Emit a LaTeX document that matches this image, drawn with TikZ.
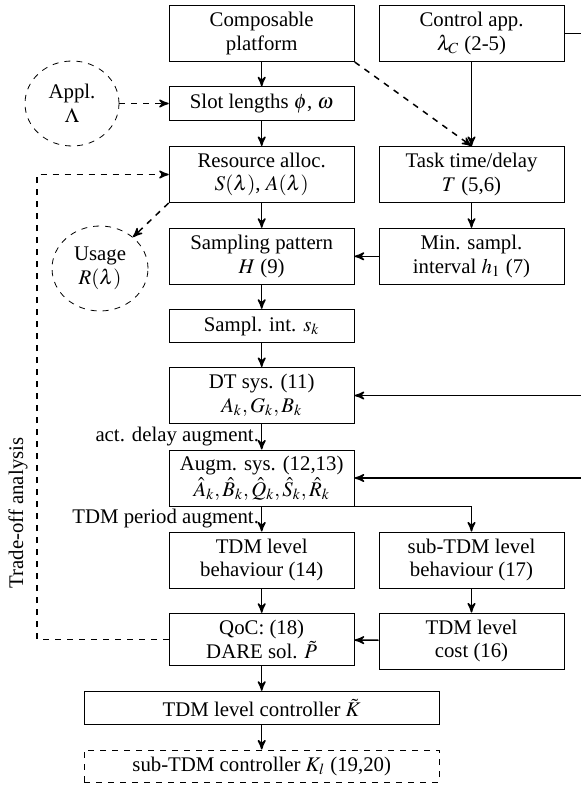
\documentclass[tikz,border=0pt]{standalone}
\usepackage{amsmath,amssymb}
\usepackage{mathptmx}
\usepackage[no-math]{fontspec}
\setmainfont{Liberation Serif}
\usepackage{tikz}
\usetikzlibrary{arrows}
\usetikzlibrary{calc,shapes.geometric}

\begin{document}
\begin{tikzpicture}[x=0.5pt,y=-0.5pt,>=stealth',font=\fontsize{10.4}{11.8}\selectfont,
	blk/.style={draw,rectangle,line width=.5pt,align=center,minimum width=92.5pt,inner sep=1pt},
	tall/.style={blk,minimum height=28pt},
	flat/.style={blk,minimum height=16.7pt},
	wide/.style={blk,minimum width=177.5pt,minimum height=16.7pt},
	cloud/.style={draw,ellipse,dashed,line width=.4pt,align=center,inner sep=0pt}]
	\useasboundingbox (0,0) rectangle (581,787);
	\clip (0,0) rectangle (581,787);
	
	\node[tall] (comp) at (261.7,33.5){Composable\\platform};
	\node[tall] (ctrl) at (471.5,33.5){Control app.\\$\lambda_C$ (2-5)};
	\node[flat] (slot) at (261.7,103.5){Slot lengths $\phi$, $\omega$};
	\node[cloud,minimum width=47pt,minimum height=42.5pt] (appl) at (72,103.5){Appl.\\$\Lambda$};
	\node[tall] (res) at (261.7,174.5){Resource alloc.\\$S(\lambda)$, $A(\lambda)$};
	\node[tall] (task) at (471.5,174.5){Task time/delay\\$T$ (5,6)};
	\node[cloud,minimum width=48pt,minimum height=42.5pt] (usage) at (100,268.5){Usage\\$R(\lambda)$};
	\node[tall] (samp) at (261.7,256.3){Sampling pattern\\$H$ (9)};
	\node[tall] (minh) at (471.5,256.3){Min. sampl.\\interval $h_1$ (7)};
	\node[flat] (sint) at (261.7,326){Sampl. int. $s_k$};
	\node[tall] (dt) at (261.7,395.5){DT sys. (11)\\$A_k,G_k,B_k$};
	\node[tall] (aug) at (261.7,478){Augm. sys. (12,13)\\[1pt]$\hat{A}_k,\hat{B}_k,\hat{Q}_k,\hat{S}_k,\hat{R}_k$};
	\node[tall] (tdmb) at (261.7,560){TDM level\\behaviour (14)};
	\node[tall] (subb) at (471.5,560){sub-TDM level\\behaviour (17)};
	\node[tall,minimum height=26pt] (qoc) at (261.7,639.3){QoC: (18)\\DARE sol. $\tilde{P}$};
	\node[tall] (cost) at (471.5,641){TDM level\\cost (16)};
	\node[wide] (tdmk) at (261.7,708){TDM level controller $\tilde{K}$};
	\node[wide,dashed,minimum height=16pt] (subk) at (261.7,766){sub-TDM controller $K_l$ (19,20)};
	\node[rotate=90] (trade) at (18,513){Trade-off analysis};
	\coordinate (fb) at (37,0);
	\coordinate (rc) at (590,33.5);
	
	\begin{scope}[line width=.75pt]
	%edges
	\draw[->] (comp) -- (slot);
	\draw[->] (slot) -- (res);
	\draw[->] (res) -- (samp);
	\draw[->] (samp) -- (sint);
	\draw[->] (sint) -- (dt);
	\draw[->] (dt) -- node[left,inner sep=1pt]{act. delay augment.} (aug);
	\draw[->] (aug) -- node[left,inner sep=1pt]{TDM period augment.} (tdmb);
	\draw[->] (tdmb) -- (qoc);
	\draw[->] (qoc) -- (tdmk);
	\draw[->] (tdmk) -- (subk);
	\draw[->] (ctrl) -- (task);
	\draw[->] (task) -- (minh);
	\draw[->] (minh) -- (samp);
	\draw[->] (subb) -- (cost);
	\draw[->] (cost) -- (qoc);
	\draw[->] (aug.south east) -| (subb.north);
	\draw (ctrl.east) -- (rc);
	\draw[->] (rc) |- (dt.east);
	\draw[->] (rc) |- (aug.east);
	%dashed links
	\draw[->,dashed] (comp.south east) -- (task.north);
	\draw[->,dashed] (appl) -- (slot);
	\draw[->,dashed] (res.south west) -- (usage);
	\draw[->,dashed] (qoc.west) -- (qoc.west -| fb) -- (res.west -| fb) -- (res.west);
	\end{scope}
\end{tikzpicture}
\end{document}
